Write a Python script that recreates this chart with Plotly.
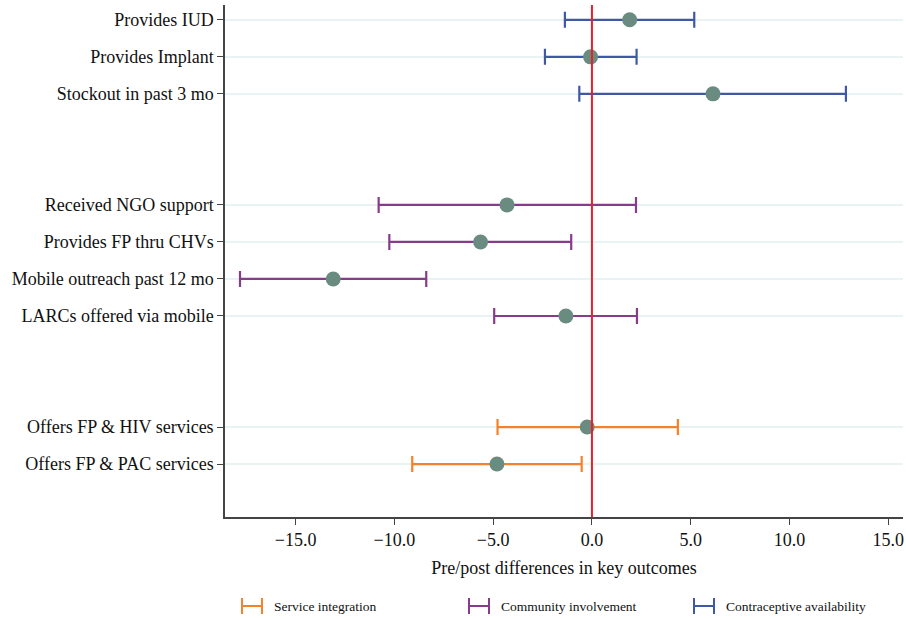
import plotly.graph_objects as go

# ---- data ----
labels = ["Provides IUD", "Provides Implant", "Stockout in past 3 mo",
          "Received NGO support", "Provides FP thru CHVs", "Mobile outreach past 12 mo",
          "LARCs offered via mobile",
          "Offers FP & HIV services", "Offers FP & PAC services"]
groups = ["Contraceptive availability"] * 3 + ["Community involvement"] * 4 + ["Service integration"] * 2
estimate = [1.91, -0.07, 6.13, -4.30, -5.64, -13.10, -1.32, -0.24, -4.81]
lower = [-1.37, -2.38, -0.64, -10.80, -10.26, -17.82, -4.95, -4.78, -9.10]
upper = [5.18, 2.26, 12.86, 2.23, -1.05, -8.39, 2.28, 4.35, -0.52]
row_pos = [0, 1, 2, 5, 6, 7, 8, 11, 12]
xticks = [-15, -10, -5, 0, 5, 10, 15]
legend_order = ["Service integration", "Community involvement", "Contraceptive availability"]

colors = {"Service integration": "#F5822A",
          "Community involvement": "#873C8A",
          "Contraceptive availability": "#3F58A6"}
marker_color = "#6A8C80"
FONT = "Liberation Serif"

fig = go.Figure()
for g in legend_order:
    idx = [i for i, gg in enumerate(groups) if gg == g]
    xs = [estimate[i] for i in idx]
    ys = [row_pos[i] for i in idx]
    plus = [upper[i] - estimate[i] for i in idx]
    minus = [estimate[i] - lower[i] for i in idx]
    fig.add_trace(go.Scatter(
        x=xs, y=ys, mode="markers", name=g, showlegend=False,
        marker=dict(size=15, color="rgba(0,0,0,0)"),
        error_x=dict(type="data", symmetric=False, array=plus, arrayminus=minus,
                     color=colors[g], thickness=2.2, width=8),
    ))

# reference line at zero
fig.add_shape(type="line", x0=0, x1=0, xref="x", y0=0, y1=1, yref="paper",
              line=dict(color="#E8202A", width=2), layer="above")

# markers on top
fig.add_trace(go.Scatter(x=estimate, y=row_pos, mode="markers", showlegend=False,
                         marker=dict(size=15, color=marker_color)))

# manual legend (paper coordinates)
L, R, T, B = 225, 903, 5, 517
W, H = R - L, B - T
def px(x): return (x - L) / W
def py(y): return (B - y) / H
legend_x = [242, 469, 694]
ly = 606
for g, x0 in zip(legend_order, legend_x):
    c = colors[g]
    fig.add_shape(type="line", xref="paper", yref="paper", x0=px(x0), x1=px(x0 + 20),
                  y0=py(ly), y1=py(ly), line=dict(color=c, width=2))
    for xe in (x0, x0 + 20):
        fig.add_shape(type="line", xref="paper", yref="paper", x0=px(xe), x1=px(xe),
                      y0=py(ly - 8), y1=py(ly + 8), line=dict(color=c, width=2))
    fig.add_annotation(text=g, xref="paper", yref="paper", x=px(x0 + 30), y=py(ly),
                       xanchor="left", yanchor="middle", showarrow=False,
                       font=dict(family=FONT, size=13.5, color="#111"))

fig.update_layout(
    width=906, height=619, autosize=False,
    margin=dict(l=L, r=906 - R, t=T, b=619 - B),
    plot_bgcolor="white", paper_bgcolor="white",
    font=dict(family=FONT, size=18, color="#111"),
    showlegend=False,
)
fig.update_xaxes(range=[-18.58, 15.75], tickvals=xticks, tickformat=".1f",
                 automargin=False,
                 showgrid=False, zeroline=False, showline=True, linecolor="#444",
                 linewidth=1.5, ticks="outside", ticklen=6, tickcolor="#444",
                 tickfont=dict(family=FONT, size=18),
                 title=dict(text="Pre/post differences in key outcomes",
                            font=dict(family=FONT, size=18), standoff=12))
fig.update_yaxes(range=[13.43, -0.4], tickvals=row_pos, ticktext=labels,
                 automargin=False,
                 showgrid=True, gridcolor="#EAF3F4", gridwidth=2, zeroline=False,
                 showline=True, linecolor="#444", linewidth=1.5,
                 ticks="outside", ticklen=6, tickcolor="#444",
                 tickfont=dict(family=FONT, size=18))

post = ("document.body.style.margin='0';document.body.style.padding='0';"
        "document.body.style.overflow='hidden';"
        "document.documentElement.style.overflow='hidden';")
fig.write_html("out.html", config={"responsive": False, "displayModeBar": False},
               post_script=post)
